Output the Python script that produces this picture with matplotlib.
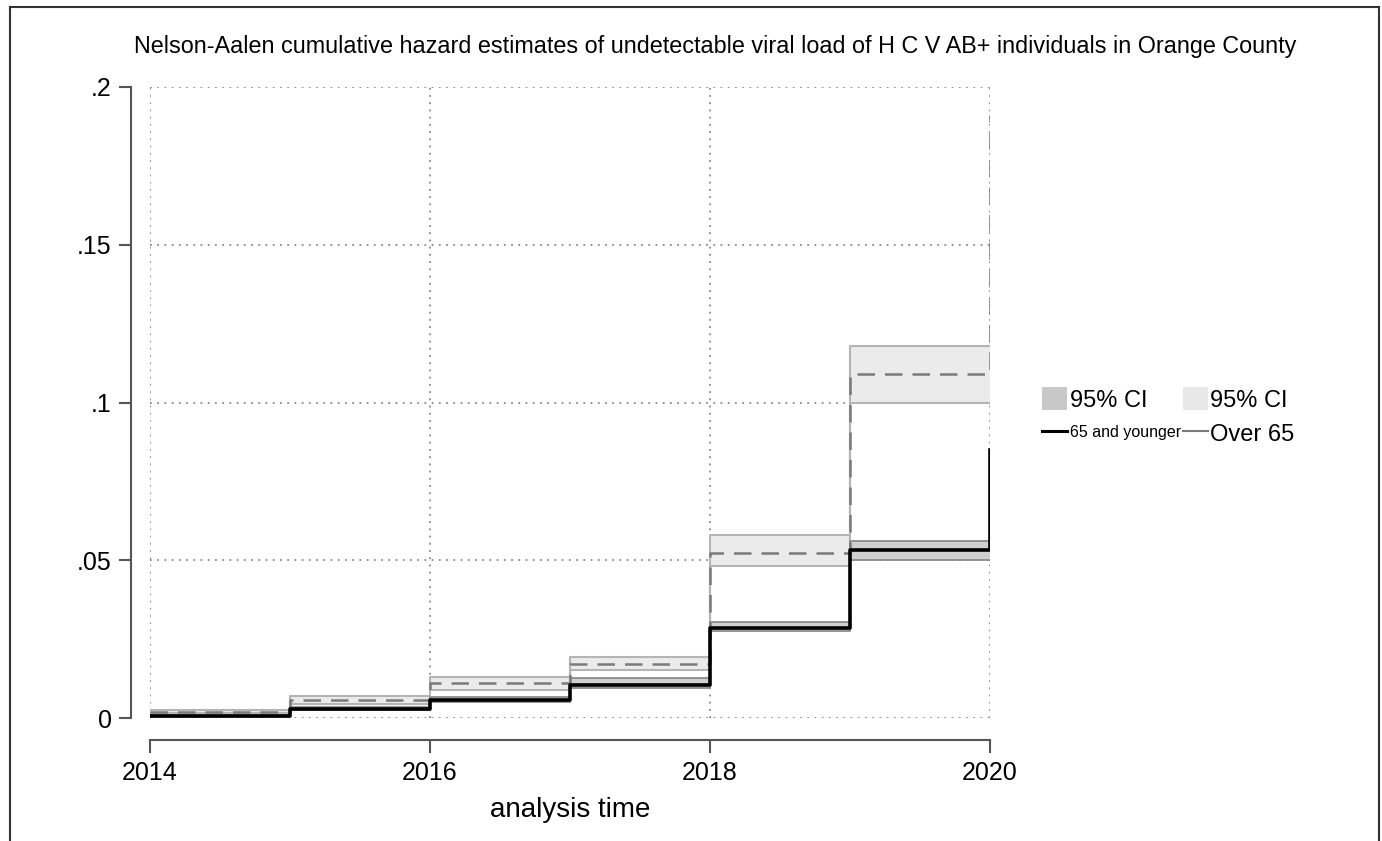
import matplotlib
matplotlib.use('Agg')
import matplotlib.pyplot as plt
from matplotlib.lines import Line2D
from matplotlib.patches import Patch

plt.rcParams['font.family'] = ['Liberation Sans', 'DejaVu Sans']

# step times (last point = final jump at 2020)
times = [2014, 2015, 2016, 2017, 2018, 2019, 2020]

# 65 and younger
young_est = [0.0006, 0.0030, 0.0057, 0.0105, 0.0285, 0.0532, 0.0850]
young_lo = [0.0003, 0.0024, 0.0050, 0.0095, 0.0276, 0.0500, 0.0500]
young_hi = [0.0009, 0.0036, 0.0066, 0.0127, 0.0304, 0.0561, 0.0760]

# Over 65
old_est = [0.0020, 0.0058, 0.0110, 0.0171, 0.0523, 0.1090, 0.1910]
old_lo = [0.0015, 0.0045, 0.0090, 0.0152, 0.0482, 0.1000, 0.1000]
old_hi = [0.0025, 0.0070, 0.0130, 0.0193, 0.0580, 0.1180, 0.1180]

xticks = [2014, 2016, 2018, 2020]
yticks = [0, 0.05, 0.1, 0.15, 0.2]
ytick_labels = ['0', '.05', '.1', '.15', '.2']

title = ('Nelson-Aalen cumulative hazard estimates of undetectable viral load '
         'of H C V AB+ individuals in Orange County')

fig = plt.figure(figsize=(13.82, 8.41), dpi=100)
ax = fig.add_axes([150 / 1382, 1 - 718 / 841, 840 / 1382, 631 / 841])

ax.set_xlim(2014, 2020)
ax.set_ylim(0, 0.2)

# grid
for x in xticks:
    ax.axvline(x, color='#8a8a8a', lw=1.3, ls=(0, (1, 3)), zorder=0)
for y in yticks:
    ax.axhline(y, color='#8a8a8a', lw=1.3, ls=(0, (1, 3)), zorder=0)

# CI bands
ax.fill_between(times, old_lo, old_hi, step='post', color='#ebebeb', lw=0, zorder=1)
ax.step(times, old_lo, where='post', color='#b4b4b4', lw=1.5, zorder=2)
ax.step(times, old_hi, where='post', color='#b4b4b4', lw=1.5, zorder=2)
ax.fill_between(times, young_lo, young_hi, step='post', color='#d0d0d0', lw=0, zorder=3)
ax.step(times, young_lo, where='post', color='#8c8c8c', lw=1.3, zorder=4)
ax.step(times, young_hi, where='post', color='#8c8c8c', lw=1.3, zorder=4)

# estimates
ax.step(times, old_est, where='post', color='#7a7a7a', lw=1.8,
        ls=(0, (7, 4)), zorder=5)
ax.step(times, young_est, where='post', color='black', lw=2.6, zorder=6)

# axes styling (Stata-like offset spines)
for s in ['top', 'right']:
    ax.spines[s].set_visible(False)
ax.spines['left'].set_position(('outward', 13.7))
ax.spines['bottom'].set_position(('outward', 15.8))
ax.spines['left'].set_bounds(0, 0.2)
ax.spines['bottom'].set_bounds(2014, 2020)
for s in ['left', 'bottom']:
    ax.spines[s].set_color('#555555')
    ax.spines[s].set_linewidth(1.5)

ax.set_xticks(xticks)
ax.set_yticks(yticks)
ax.set_yticklabels(ytick_labels)
ax.tick_params(axis='both', labelsize=18, length=9, width=1.5, color='#555555')
ax.tick_params(axis='y', pad=5)
ax.tick_params(axis='x', pad=6)
ax.set_xlabel('analysis time', fontsize=20, labelpad=9)

fig.text(715 / 1382, 1 - 47 / 841, title, fontsize=16.8, ha='center', va='center')

# legend
handles = [Patch(facecolor='#c8c8c8', edgecolor='none'),
           Line2D([], [], color='black', lw=2.2),
           Patch(facecolor='#e8e8e8', edgecolor='none'),
           Line2D([], [], color='#7a7a7a', lw=1.5)]
labels = ['95% CI', '65 and younger', '95% CI', 'Over 65']
leg = fig.legend(handles, labels, ncol=2, frameon=False, fontsize=17,
                 loc='upper left', bbox_to_anchor=(1033 / 1382, 1 - 378 / 841),
                 handlelength=1.05, handleheight=1.1, handletextpad=0.1,
                 columnspacing=0.1, labelspacing=0.4, borderaxespad=0)
small = leg.get_texts()[1]
small.set_fontsize(11.5)
small.set_y(4)

# picture border (left, top, right)
for xs, ys in [([10 / 1382, 10 / 1382], [0, 1 - 7 / 841]),
               ([10 / 1382, 1379 / 1382], [1 - 7 / 841, 1 - 7 / 841]),
               ([1379 / 1382, 1379 / 1382], [0, 1 - 7 / 841])]:
    fig.add_artist(Line2D(xs, ys, transform=fig.transFigure, color='#333333', lw=1.5))

fig.savefig('out.png', dpi=100)
